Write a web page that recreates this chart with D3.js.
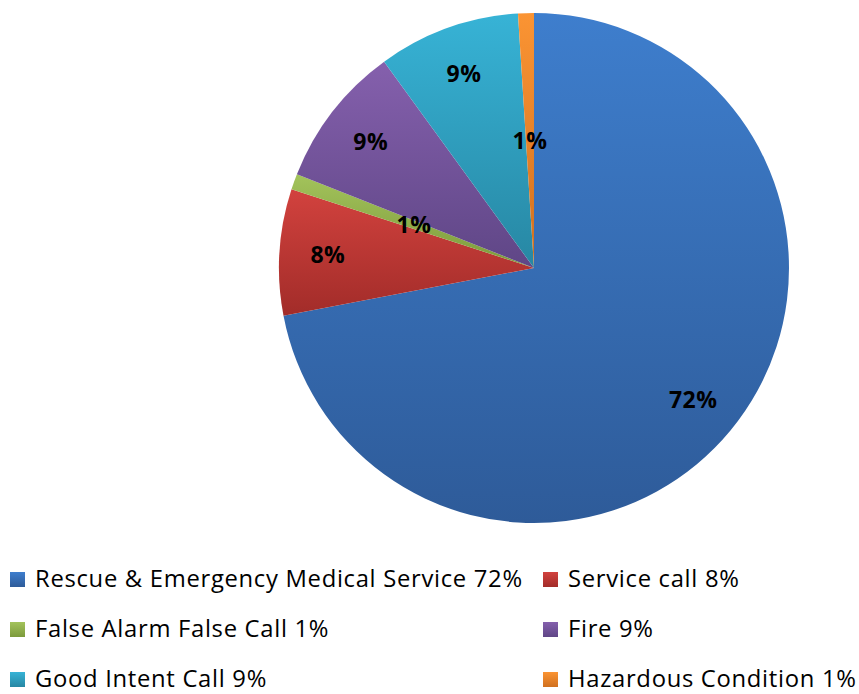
<!DOCTYPE html>
<html>
<head>
<meta charset="utf-8">
<script src="https://cdn.jsdelivr.net/npm/d3@7"></script>
<style>
  html, body { margin: 0; padding: 0; background: #fff; }
  svg { display: block; font-family: "Open Sans", Lato, sans-serif; }
</style>
</head>
<body>
<svg id="chart" width="859" height="694"></svg>
<script>
var categories = ["Rescue & Emergency Medical Service", "Service call", "False Alarm False Call",
                  "Fire", "Good Intent Call", "Hazardous Condition"];
var values = [72, 8, 1, 9, 9, 1];
var topColors = ["#3e7ecd", "#d2423e", "#a3c35b", "#8560ad", "#37b3d6", "#fb9433"];
var bottomColors = ["#2e5b99", "#a22c29", "#7c9a3c", "#5f4686", "#2787a3", "#d0701f"];

var svg = d3.select("#chart"),
    cx = 534, cy = 268, radius = 255;

var data = categories.map(function(c, i) {
  return { name: c, value: values[i], i: i };
});

var defs = svg.append("defs");
data.forEach(function(d) {
  var g = defs.append("linearGradient")
    .attr("id", "grad" + d.i)
    .attr("x1", 0).attr("y1", 0).attr("x2", 0).attr("y2", 1);
  g.append("stop").attr("offset", "0%").attr("stop-color", topColors[d.i]);
  g.append("stop").attr("offset", "100%").attr("stop-color", bottomColors[d.i]);
});

var pie = d3.pie().sort(null).value(function(d) { return d.value; });
var arc = d3.arc().innerRadius(0).outerRadius(radius);
var arcs = pie(data);

var g = svg.append("g").attr("transform", "translate(" + cx + "," + cy + ")");

g.selectAll("path.slice")
  .data(arcs)
  .enter().append("path")
  .attr("class", "slice")
  .attr("d", arc)
  .attr("fill", function(d) { return "url(#grad" + d.data.i + ")"; });

// labels: small slices sit closer to the centre
g.selectAll("text.lbl")
  .data(arcs)
  .enter().append("text")
  .attr("class", "lbl")
  .attr("transform", function(d) {
    var r = d.data.value < 5 ? radius * 0.5 : radius * 0.81;
    var a = (d.startAngle + d.endAngle) / 2;
    return "translate(" + (Math.sin(a) * r) + "," + (-Math.cos(a) * r) + ")";
  })
  .attr("text-anchor", "middle")
  .attr("dy", "0.36em")
  .attr("font-weight", "bold")
  .attr("font-size", 23)
  .attr("letter-spacing", 0.5)
  .attr("fill", "#000")
  .text(function(d) { return d.data.value + "%"; });

// legend, two columns (y = text baseline)
var colX = [10, 543], rowY = [587, 637, 687];
var legend = svg.selectAll("g.leg")
  .data(data)
  .enter().append("g")
  .attr("class", "leg")
  .attr("transform", function(d, i) {
    return "translate(" + colX[i % 2] + "," + rowY[Math.floor(i / 2)] + ")";
  });

legend.append("rect")
  .attr("x", 0).attr("y", -15)
  .attr("width", 15).attr("height", 15)
  .attr("fill", function(d) { return "url(#grad" + d.i + ")"; });

legend.append("text")
  .attr("x", 25)
  .attr("font-size", 23.8)
  .attr("letter-spacing", 0.7)
  .attr("fill", "#000")
  .text(function(d) { return d.name + " " + d.value + "%"; });
</script>
</body>
</html>
